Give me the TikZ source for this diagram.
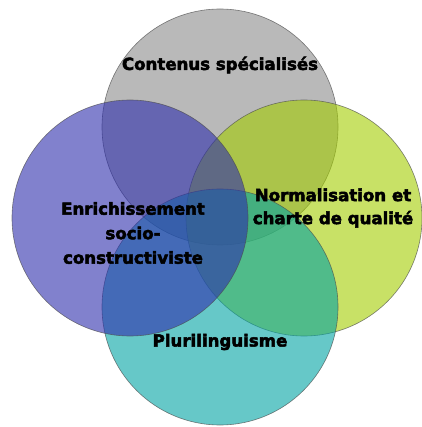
\documentclass[tikz,border=0pt]{standalone}
\usepackage{fontspec}
\setmainfont{DejaVu Sans}[BoldFeatures={FakeBold=3}]
\definecolor{cgray}{RGB}{138,138,138}
\definecolor{cblue}{RGB}{45,45,172}
\definecolor{cgreen}{RGB}{163,205,0}
\definecolor{cteal}{RGB}{0,163,163}
\begin{document}
\begin{tikzpicture}[x=1pt, y=-1pt,
      disc/.style={circle, minimum size=236pt, inner sep=0pt,
        draw=black!70, draw opacity=0.7, line width=0.6pt, fill opacity=0.6},
      lbl/.style={align=center, font=\bfseries\fontsize{16.6}{24.5}\selectfont}]
      \useasboundingbox (0,0) rectangle (421,427);
      \node[disc, fill=cgray] (contenus) at (220,127) {};
      \node[disc, fill=cgreen] (norme) at (304,218) {};
      \node[disc, fill=cteal] (pluri) at (220,307) {};
      \node[disc, fill=cblue] (enrich) at (130,218) {};
      \node[lbl] (tcontenus) at (220,65) {Contenus spécialisés};
      \node[lbl] (tenrich) at (133,233) {Enrichissement\\socio-\\constructiviste};
      \node[lbl, font=\bfseries\fontsize{16.6}{23}\selectfont] (tnorme) at (333,208) {Normalisation et\\charte de qualité};
      \node[lbl] (tpluri) at (220,342) {Plurilinguisme};
    \end{tikzpicture}
\end{document}
